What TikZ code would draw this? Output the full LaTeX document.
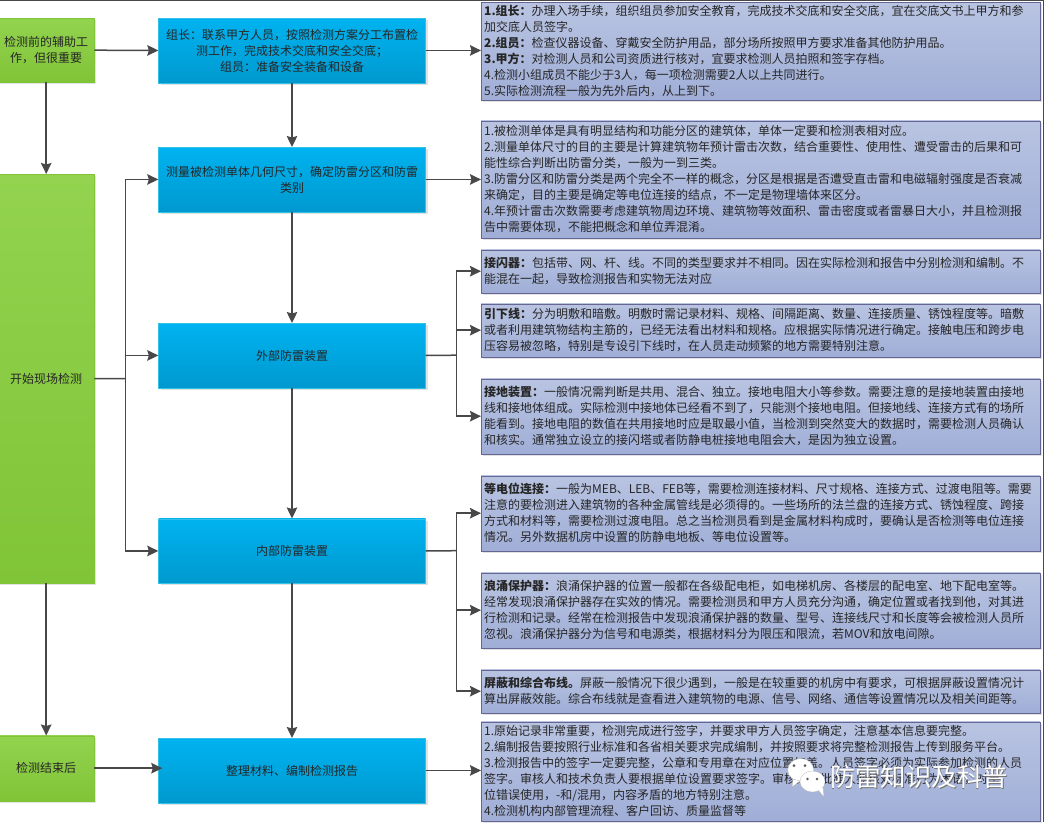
\documentclass[tikz,border=0pt]{standalone}
\usepackage{fontspec}
\usepackage{xcolor}
\setmainfont{Noto Sans CJK SC}
\usetikzlibrary{arrows.meta, shadows}
\definecolor{greentop}{HTML}{93D34F}
\definecolor{greenbottom}{HTML}{80C437}
\definecolor{bluetop}{HTML}{00B3F0}
\definecolor{bluebottom}{HTML}{0099CF}
\definecolor{notetop}{HTML}{B9C4E2}
\definecolor{notebottom}{HTML}{A0AED7}
\definecolor{inkgray}{HTML}{484848}
\definecolor{shadowgray}{HTML}{E2E2E2}

\begin{document}
\begin{tikzpicture}[
	  x=1pt,
	  y=-1pt,
	  startbox/.style={
	  	rectangle,
	  	draw=greenbottom,
	  	top color=greentop,
	  	bottom color=greenbottom,
	  	anchor=north west,
	  	minimum width=96pt,
	  	align=center,
	  	text=black!85,
	  	font=\fontsize{12}{16}\selectfont,
	  	drop shadow={shadow xshift=2pt,shadow yshift=-2pt,fill=shadowgray,opacity=1}
	  },
	  stepbox/.style={
	  	rectangle,
	  	draw=black!40!blue!30!cyan!80,
	  	top color=bluetop,
	  	bottom color=bluebottom,
	  	anchor=north west,
	  	minimum width=267pt,
	  	minimum height=64.5pt,
	  	align=center,
	  	text=black!85,
	  	font=\fontsize{12}{16}\selectfont,
	  	drop shadow={shadow xshift=2pt,shadow yshift=-2pt,fill=shadowgray,opacity=1}
	  },
	  notebox/.style={
	  	rectangle,
	  	draw=black!70!blue!60,
	  	top color=notetop,
	  	bottom color=notebottom,
	  	anchor=north west,
	  	inner sep=3pt,
	  	text width=553pt,
	  	align=left,
	  	text=black!85,
	  	font=\fontsize{12}{16}\selectfont,
	  	drop shadow={shadow xshift=2pt,shadow yshift=-2pt,fill=shadowgray,opacity=1}
	  },
	  plain/.style={draw=inkgray, line width=1.5pt},
	  link/.style={draw=inkgray, line width=1.5pt, -{Stealth[length=11pt,width=10.5pt,inset=1.5pt]}},
	  bubble/.style={fill=white, draw=black!30, line width=.3pt},
	  eye/.style={fill=black!65}]
	\useasboundingbox (0,0) rectangle (1044,822);
	\draw[inkgray, line width=1pt] (0,.5) -- (1043,.5) -- (1043,822);
	% Left column
	\node[startbox, minimum height=64pt] (startprep) at (-2,18) {检测前的辅助工\\作，但很重要};
	\node[startbox, minimum height=409pt] (startmain) at (-2,174) {开始现场检测};
	\node[startbox, minimum height=65pt] (startend) at (-2,735.5) {检测结束后};
	% Middle column
	\node[stepbox] (stepteam) at (158.3,18) {组长：联系甲方人员，按照检测方案分工布置检\\测工作，完成技术交底和安全交底；\\组员：准备安全装备和设备};
	\node[stepbox] (stepsize) at (158.3,147) {测量被检测单体几何尺寸，确定防雷分区和防雷\\类别};
	\node[stepbox] (stepext) at (158.3,323) {外部防雷装置};
	\node[stepbox] (stepint) at (158.3,518.5) {内部防雷装置};
	\node[stepbox] (stepreport) at (158.3,738) {整理材料、编制检测报告};
	% Right column
	\node[notebox, minimum height=97pt] (noteteam) at (481,2) {\textbf{1.组长：}办理入场手续，组织组员参加安全教育，完成技术交底和安全交底，宜在交底文书上甲方和参\\加交底人员签字。\\\textbf{2.组员：}检查仪器设备、穿戴安全防护用品，部分场所按照甲方要求准备其他防护用品。\\\textbf{3.甲方：}对检测人员和公司资质进行核对，宜要求检测人员拍照和签字存档。\\4.检测小组成员不能少于3人，每一项检测需要2人以上共同进行。\\5.实际检测流程一般为先外后内，从上到下。};
	\node[notebox, minimum height=117.5pt] (notesize) at (481,120.5) {1.被检测单体是具有明显结构和功能分区的建筑体，单体一定要和检测表相对应。\\2.测量单体尺寸的目的主要是计算建筑物年预计雷击次数，结合重要性、使用性、遭受雷击的后果和可\\能性综合判断出防雷分类，一般为一到三类。\\3.防雷分区和防雷分类是两个完全不一样的概念，分区是根据是否遭受直击雷和电磁辐射强度是否衰减\\来确定，目的主要是确定等电位连接的结点，不一定是物理墙体来区分。\\4.年预计雷击次数需要考虑建筑物周边环境、建筑物等效面积、雷击密度或者雷暴日大小，并且检测报\\告中需要体现，不能把概念和单位弄混淆。};
	\node[notebox, minimum height=43pt] (noteair) at (481,249.5) {\textbf{接闪器：}包括带、网、杆、线。不同的类型要求并不相同。因在实际检测和报告中分别检测和编制。不\\能混在一起，导致检测报告和实物无法对应};
	\node[notebox, minimum height=53pt] (notedown) at (481,303.5) {\textbf{引下线：}分为明敷和暗敷。明敷时需记录材料、规格、间隔距离、数量、连接质量、锈蚀程度等。暗敷\\或者利用建筑物结构主筋的，已经无法看出材料和规格。应根据实际情况进行确定。接触电压和跨步电\\压容易被忽略，特别是专设引下线时，在人员走动频繁的地方需要特别注意。};
	\node[notebox, minimum height=75pt] (noteearth) at (481,378.5) {\textbf{接地装置：}一般情况需判断是共用、混合、独立。接地电阻大小等参数。需要注意的是接地装置由接地\\线和接地体组成。实际检测中接地体已经看不到了，只能测个接地电阻。但接地线、连接方式有的场所\\能看到。接地电阻的数值在共用接地时应是取最小值，当检测到突然变大的数据时，需要检测人员确认\\和核实。通常独立设立的接闪塔或者防静电桩接地电阻会大，是因为独立设置。};
	\node[notebox, minimum height=75pt] (notebond) at (481,475.5) {\textbf{等电位连接：}一般为MEB、LEB、FEB等，需要检测连接材料、尺寸规格、连接方式、过渡电阻等。需要\\注意的要检测进入建筑物的各种金属管线是必须得的。一些场所的法兰盘的连接方式、锈蚀程度、跨接\\方式和材料等，需要检测过渡电阻。总之当检测员看到是金属材料构成时，要确认是否检测等电位连接\\情况。另外数据机房中设置的防静电地板、等电位设置等。};
	\node[notebox, minimum height=75pt] (notesurge) at (481,572.5) {\textbf{浪涌保护器：}浪涌保护器的位置一般都在各级配电柜，如电梯机房、各楼层的配电室、地下配电室等。\\经常发现浪涌保护器存在实效的情况。需要检测员和甲方人员充分沟通，确定位置或者找到他，对其进\\行检测和记录。经常在检测报告中发现浪涌保护器的数量、型号、连接线尺寸和长度等会被检测人员所\\忽视。浪涌保护器分为信号和电源类，根据材料分为限压和限流，若MOV和放电间隙。};
	\node[notebox, minimum height=43pt] (noteshield) at (481,669.5) {\textbf{屏蔽和综合布线。}屏蔽一般情况下很少遇到，一般是在较重要的机房中有要求，可根据屏蔽设置情况计\\算出屏蔽效能。综合布线就是查看进入建筑物的电源、信号、网络、通信等设置情况以及相关间距等。};
	\node[notebox, minimum height=99pt] (notereport) at (481,721.5) {1.原始记录非常重要，检测完成进行签字，并要求甲方人员签字确定，注意基本信息要完整。\\2.编制报告要按照行业标准和各省相关要求完成编制，并按照要求将完整检测报告上传到服务平台。\\3.检测报告中的签字一定要完整，公章和专用章在对应位置加盖。人员签字必须为实际参加检测的人员\\签字。审核人和技术负责人要根据单位设置要求签字。审核人及批准人要核对标准行为术语，对单\\位错误使用，-和/混用，内容矛盾的地方特别注意。\\4.检测机构内部管理流程、客户回访、质量监督等};
	% Connectors
	\draw[link] (startprep.east) -- (stepteam.west);
	\draw[link] (startprep.south) -- (startmain.north);
	\draw[link] (startmain.south) -- (startend.north);
	\draw[link] (startend.east) -- ([xshift=4pt]startend.east -| stepreport.west);
	\draw[link] (stepteam.south) -- (stepsize.north);
	\draw[link] (stepsize.south) -- (stepext.north);
	\draw[link] (stepext.south) -- (stepint.north);
	\draw[link] (stepint.south) -- (stepreport.north);
	\draw[link] (stepteam.east) -- (stepteam.east -| noteteam.west);
	\draw[link] (stepsize.east) -- (stepsize.east -| notesize.west);
	\draw[link] (stepreport.east) -- (stepreport.east -| notereport.west);
	% Trunks
	\coordinate (trunkmain) at (125.5,378.5);
	\coordinate (trunkext) at (456.7,355.2);
	\coordinate (trunkint) at (456.7,550.7);
	\draw[plain] (startmain.east) -- (trunkmain);
	\draw[link] (trunkmain) |- (stepsize.west);
	\draw[link] (trunkmain) |- (stepext.west);
	\draw[link] (trunkmain) |- (stepint.west);
	\draw[plain] (stepext.east) -- (trunkext);
	\draw[link] (trunkext) |- (noteair.west);
	\draw[link] (trunkext) |- (notedown.west);
	\draw[link] (trunkext) |- (noteearth.west);
	\draw[plain] (stepint.east) -- (trunkint);
	\draw[link] (trunkint) |- (notebond.west);
	\draw[link] (trunkint) |- (notesurge.west);
	\draw[link] (trunkint) |- (noteshield.west);
	% Watermark
	\filldraw[bubble] (800.7,770) ellipse [x radius=13, y radius=11.5];
	\filldraw[bubble] (793,779) -- (792,787) -- (800,781) -- cycle;
	\filldraw[bubble] (812.5,781.5) ellipse [x radius=12.5, y radius=10.5];
	\filldraw[bubble] (818,790) -- (824,797) -- (823,787) -- cycle;
	\fill[white] (812.5,781.5) ellipse [x radius=12, y radius=10];
	\fill[eye] (794,765.5) circle (1.5) (805,765.5) circle (1.5) (807.5,779) circle (1.3) (817,779) circle (1.3);
	\node[text=black!55, font=\fontsize{25.4}{28}\selectfont, inner sep=0pt] (markshade) at (919.7,777.7) {防雷知识及科普};
	\node[text=white, font=\fontsize{25.4}{28}\selectfont, inner sep=0pt] (marktext) at (919,777) {防雷知识及科普};
\end{tikzpicture}
\end{document}
